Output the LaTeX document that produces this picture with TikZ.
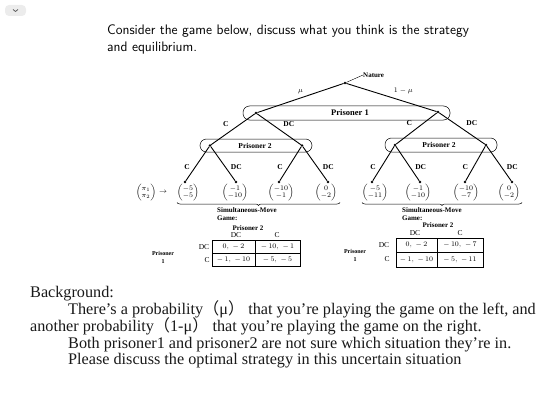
\documentclass[tikz,border=0pt]{standalone}
\usepackage{amsmath}
\usepackage{fontspec}
\setmainfont{Liberation Serif}
\newfontfamily\cjkf{Noto Sans CJK SC}
\usetikzlibrary{decorations.pathreplacing,positioning}
\begin{document}
\begin{tikzpicture}[x=1pt,y=-1pt,
  dot/.style={circle,fill=black,inner sep=0pt,minimum size=2.6pt},
  lbl/.style={font=\fontsize{7.5}{8}\selectfont,inner sep=0pt},
  plbl/.style={font=\bfseries\fontsize{7.5}{8}\selectfont,inner sep=0pt},
  slbl/.style={font=\fontsize{6.5}{7}\selectfont,inner sep=0pt},
  edge/.style={line width=0.9pt},
  infoset/.style={rounded corners=6.5pt,line width=0.5pt},
  vec/.style={font=\fontsize{7}{7.5}\selectfont,inner sep=0pt},
  tab/.style={line width=0.7pt},
  brc/.style={decorate,decoration={brace,mirror,amplitude=3pt},line width=0.5pt},
  title/.style={font=\sffamily\fontsize{13.8}{16}\selectfont,anchor=base west,inner sep=0pt},
  bg/.style={font=\fontsize{16.2}{18}\selectfont,anchor=base west,inner sep=0pt,text=black!90}]
\useasboundingbox (0,0) rectangle (560,420);
% top-left icon
\fill[gray!15,rounded corners=4pt] (5,5) rectangle (26,16);
\draw[line width=0.7pt,black!70] (13,9.5) -- (15.5,11.5) -- (18,9.5);
% title
\node[title] (t1) at (107,35) {Consider the game below, discuss what you think is the strategy};
\node[title] (t2) at (107,52) {and equilibrium.};
% tree nodes
\node[dot] (N) at (345,83) {};
\node[dot] (A) at (256,113) {};
\node[dot] (B) at (438,112) {};
\node[dot] (A1) at (210,145.5) {};
\node[dot] (A2) at (302,145.5) {};
\node[dot] (B1) at (395,145) {};
\node[dot] (B2) at (486,145) {};
\node[dot] (l1) at (185,182) {};
\node[dot] (l2) at (236,182) {};
\node[dot] (l3) at (279,182) {};
\node[dot] (l4) at (328,182) {};
\node[dot] (r1) at (372,182) {};
\node[dot] (r2) at (420,182) {};
\node[dot] (r3) at (465,182) {};
\node[dot] (r4) at (512,182) {};
% information sets
\draw[infoset] (243,106) rectangle (450,120);
\node[plbl,font=\bfseries\fontsize{8.5}{9}\selectfont] (p1) at (350,113) {Prisoner 1};
\draw[infoset] (200,139) rectangle (312,152);
\node[plbl] (p2a) at (255,145.5) {Prisoner 2};
\draw[infoset] (385,138) rectangle (497,152);
\node[plbl] (p2b) at (439,144.5) {Prisoner 2};
% nature label
\node[plbl,anchor=west,font=\bfseries\fontsize{7}{8}\selectfont] (nat) at (363,75) {Nature};
\draw[line width=0.4pt] (nat.west) -- (N);
% edges
\draw[edge] (N) -- (A) node[lbl,midway,above=4pt] {$\mu$};
\draw[edge] (N) -- (B) node[lbl,midway,above right=3pt and 2pt] {$1-\mu$};
\draw[edge] (A) -- (A1) node[plbl,midway,above left=2pt and 4pt] {C};
\draw[edge] (A) -- (A2) node[plbl,midway,above right=2pt and 4pt] {DC};
\draw[edge] (B) -- (B1) node[plbl,midway,above left=2pt and 4pt] {C};
\draw[edge] (B) -- (B2) node[plbl,midway,above right=2pt and 4pt] {DC};
\draw[edge] (A1) -- (l1) node[plbl,pos=0.6,left=5pt] {C};
\draw[edge] (A1) -- (l2) node[plbl,pos=0.6,right=5pt] {DC};
\draw[edge] (A2) -- (l3) node[plbl,pos=0.6,left=5pt] {C};
\draw[edge] (A2) -- (l4) node[plbl,pos=0.6,right=5pt] {DC};
\draw[edge] (B1) -- (r1) node[plbl,pos=0.6,left=5pt] {C};
\draw[edge] (B1) -- (r2) node[plbl,pos=0.6,right=5pt] {DC};
\draw[edge] (B2) -- (r3) node[plbl,pos=0.6,left=5pt] {C};
\draw[edge] (B2) -- (r4) node[plbl,pos=0.6,right=5pt] {DC};
% payoff vectors
\node[vec] (u) at (146,192.5) {$\begin{pmatrix}\pi_1\\ \pi_2\end{pmatrix}$};
\node[vec] (ar) at (163,192.5) {$\rightarrow$};
\node[vec] (v1) at (188,192.5) {$\begin{pmatrix}-5\\ -5\end{pmatrix}$};
\node[vec] (v2) at (235,192.5) {$\begin{pmatrix}-1\\ -10\end{pmatrix}$};
\node[vec] (v3) at (281,192.5) {$\begin{pmatrix}-10\\ -1\end{pmatrix}$};
\node[vec] (v4) at (326,192.5) {$\begin{pmatrix}0\\ -2\end{pmatrix}$};
\node[vec] (w1) at (375,192.5) {$\begin{pmatrix}-5\\ -11\end{pmatrix}$};
\node[vec] (w2) at (418,192.5) {$\begin{pmatrix}-1\\ -10\end{pmatrix}$};
\node[vec] (w3) at (466,192.5) {$\begin{pmatrix}-10\\ -7\end{pmatrix}$};
\node[vec] (w4) at (509,192.5) {$\begin{pmatrix}0\\ -2\end{pmatrix}$};
% braces
\draw[brc] (177,202.5) -- (340,202.5);
\draw[brc] (362,202.5) -- (522,202.5);
\node[plbl,anchor=north west,align=left,font=\bfseries\fontsize{7}{8}\selectfont] (sm1) at (217,207) {Simultaneous-Move\\Game:};
\node[plbl,anchor=north west,align=left,font=\bfseries\fontsize{7}{8}\selectfont] (sm2) at (402,207) {Simultaneous-Move\\Game:};
% left table
\draw[tab] (212,240) rectangle (300,266);
\draw[line width=0.5pt] (212,253) -- (300,253);
\draw[line width=0.5pt] (255,240) -- (255,266);
\node[plbl,font=\bfseries\fontsize{7}{8}\selectfont] (lp2) at (248,228) {Prisoner 2};
\node[lbl] (lcdc) at (236,235) {DC};
\node[lbl] (lcc) at (277,235) {C};
\node[lbl] (lrdc) at (204,247) {DC};
\node[lbl] (lrc) at (207,260) {C};
\node[slbl,align=center,font=\bfseries\fontsize{6}{8}\selectfont] (lp1) at (163,257) {Prisoner\\1};
\node[lbl] (c11) at (233.5,246.5) {$0,\;-\,2$};
\node[lbl] (c12) at (277.5,246.5) {$-\,10,\;-\,1$};
\node[lbl] (c21) at (233.5,259.5) {$-\,1,\;-\,10$};
\node[lbl] (c22) at (277.5,259.5) {$-\,5,\;-\,5$};
% right table
\draw[tab] (396,238) rectangle (483,267);
\draw[line width=0.5pt] (396,252) -- (483,252);
\draw[line width=0.5pt] (437,238) -- (437,267);
\node[plbl,font=\bfseries\fontsize{7}{8}\selectfont] (rp2) at (438,225) {Prisoner 2};
\node[lbl] (rcdc) at (415,233) {DC};
\node[lbl] (rcc) at (460,233) {C};
\node[lbl] (rrdc) at (384,245) {DC};
\node[lbl] (rrc) at (387,259) {C};
\node[slbl,align=center,font=\bfseries\fontsize{6}{8}\selectfont] (rp1) at (355,255) {Prisoner\\1};
\node[lbl] (d11) at (416.5,245) {$0,\;-\,2$};
\node[lbl] (d12) at (460,245) {$-\,10,\;-\,7$};
\node[lbl] (d21) at (416.5,259.5) {$-\,1,\;-\,10$};
\node[lbl] (d22) at (460,259.5) {$-\,5,\;-\,11$};
% background text
\node[bg] (b1) at (30,297) {Background:};
\node[bg] (b2) at (68,314) {There's a probability{\cjkf （}μ{\cjkf ）} that you're playing the game on the left, and};
\node[bg] (b3) at (30,331) {another probability{\cjkf （}1-μ{\cjkf ）} that you're playing the game on the right.};
\node[bg] (b4) at (68,348) {Both prisoner1 and prisoner2 are not sure which situation they're in.};
\node[bg] (b5) at (68,364) {Please discuss the optimal strategy in this uncertain situation};
\end{tikzpicture}
\end{document}
